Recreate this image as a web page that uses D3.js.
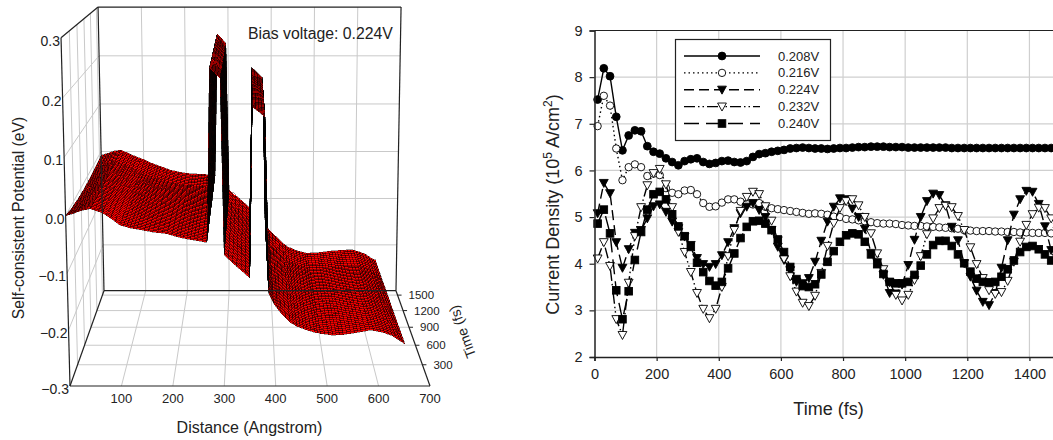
<!DOCTYPE html>
<html>
<head>
<meta charset="utf-8">
<script src="https://cdn.jsdelivr.net/npm/d3@7"></script>
<style>
  html, body { margin: 0; padding: 0; background: #fff; }
  text { font-family: "Liberation Sans", Arial, sans-serif; fill: #222; }
</style>
</head>
<body>
<div id="chart"></div>
<script>
var svgWidth = 1053;
var svgHeight = 440;

// ---- current density chart values, one point every 20 fs ----
var currentTimes = d3.range(75).map(function(i) { return 10 + i * 20; });

var v208 = [7.52,8.19,8.02,7.15,6.43,6.75,6.86,6.84,6.52,6.40,6.36,6.26,6.18,6.11,6.20,6.24,6.26,6.18,6.14,6.16,6.20,6.21,6.18,6.17,6.20,6.29,6.35,6.37,6.40,6.42,6.44,6.47,6.48,6.49,6.48,6.47,6.47,6.46,
  6.47,6.48,6.48,6.49,6.50,6.50,6.51,6.51,6.51,6.50,6.50,6.50,6.49,6.49,6.49,6.49,6.49,6.49,6.49,6.48,6.48,6.48,6.48,6.48,6.48,6.48,6.48,6.48,6.48,6.48,6.48,6.48,6.48,6.48,6.48,6.48,6.48];
var v216 = [6.95,7.60,7.39,6.47,5.79,6.07,6.13,6.07,5.88,5.93,5.90,5.62,5.52,5.49,5.57,5.58,5.49,5.30,5.22,5.23,5.31,5.38,5.38,5.33,5.28,5.27,5.30,5.22,5.19,5.17,5.15,5.13,5.11,5.09,5.07,5.08,5.07,5.05,
  5.01,5.00,4.96,4.95,4.93,4.91,4.89,4.87,4.86,4.86,4.85,4.83,4.82,4.81,4.81,4.80,4.79,4.78,4.77,4.76,4.75,4.72,4.71,4.70,4.70,4.70,4.69,4.69,4.68,4.68,4.67,4.67,4.66,4.66,4.66,4.65,4.65];
var v224 = [5.08,5.73,5.51,4.46,3.91,4.31,4.66,4.72,4.97,5.23,5.27,5.11,4.90,4.76,4.58,4.40,4.12,3.99,3.93,3.99,4.18,4.46,4.76,5.08,5.22,5.30,5.15,5.00,4.72,4.36,4.08,3.86,3.61,3.58,3.69,4.04,4.49,4.90,
  5.22,5.40,5.38,5.18,5.00,4.75,4.23,4.03,3.76,3.37,3.36,3.55,3.97,4.51,5.00,5.34,5.50,5.47,5.25,4.79,4.50,4.01,3.72,3.42,3.18,3.11,3.37,3.91,4.50,5.05,5.38,5.56,5.54,5.28,4.80,4.29,3.95];
var v232 = [4.11,4.46,3.95,2.81,2.47,3.59,4.59,5.21,5.68,5.94,6.03,5.70,5.21,4.68,4.25,3.82,3.37,3.03,2.83,3.03,3.50,4.16,4.72,5.13,5.43,5.54,5.49,5.23,4.92,4.50,4.10,3.73,3.40,3.16,3.09,3.31,3.80,4.38,
  4.87,5.19,5.34,5.38,5.25,5.00,4.65,4.22,3.88,3.60,3.33,3.21,3.33,3.65,4.16,4.63,4.97,5.19,5.24,5.21,5.02,4.72,4.35,3.99,3.69,3.43,3.35,3.39,3.63,4.04,4.47,4.83,5.06,5.20,5.19,4.97,4.70];
var v240 = [4.86,5.16,4.65,3.43,2.81,3.41,4.08,4.68,5.16,5.49,5.54,5.38,5.06,4.80,4.59,4.36,4.02,3.82,3.63,3.53,3.61,3.90,4.22,4.55,4.79,4.91,4.92,4.86,4.72,4.52,4.25,3.93,3.67,3.52,3.50,3.56,3.77,4.04,
  4.27,4.47,4.61,4.65,4.63,4.47,4.20,3.99,3.78,3.61,3.58,3.58,3.61,3.76,3.96,4.20,4.40,4.49,4.49,4.38,4.20,4.01,3.83,3.68,3.61,3.60,3.61,3.72,3.88,4.07,4.25,4.36,4.38,4.31,4.20,4.07,3.95];

var seriesLabels = ["0.208V", "0.216V", "0.224V", "0.232V", "0.240V"];
var currentTicksX = [0, 200, 400, 600, 800, 1000, 1200, 1400];
var currentTicksY = [2, 3, 4, 5, 6, 7, 8, 9];

// ---- potential surface values ----
var distanceNodes = [0,15,30,47,70,85,103,122,141,165,192,210,230,250,268,271,275,285,295,298,301,325,350,353,355,367,379,383,386,395,410,427,440,460,475,486,510,530,545,565,582,596,610,625,640,650];
var timeNodes = [0, 250, 500, 750, 1000, 1250, 1590];
var pot0    = [0,.004,.009,.012,.005,-.004,-.016,-.021,-.024,-.028,-.031,-.036,-.040,-.043,-.046,.060,.250,.242,.233,.080,-.068,-.088,-.108,.050,.185,.177,.168,.020,-.134,-.152,-.170,-.186,-.193,-.200,-.204,-.206,-.209,-.208,-.206,-.203,-.200,-.202,-.205,-.210,-.219,-.225];
var pot250  = [-.006,-.002,.004,.009,.004,-.005,-.016,-.021,-.025,-.030,-.034,-.038,-.041,-.044,-.047,.060,.249,.241,.232,.078,-.071,-.090,-.110,.048,.184,.175,.166,.018,-.137,-.155,-.172,-.188,-.196,-.203,-.206,-.208,-.210,-.209,-.207,-.205,-.202,-.204,-.207,-.212,-.221,-.227];
var pot500  = [-.010,-.005,.002,.007,.002,-.006,-.015,-.022,-.027,-.032,-.036,-.040,-.043,-.045,-.047,.060,.248,.240,.231,.076,-.073,-.093,-.112,.047,.182,.173,.164,.016,-.140,-.157,-.174,-.190,-.198,-.205,-.208,-.210,-.212,-.211,-.208,-.206,-.204,-.205,-.209,-.214,-.223,-.229];
var pot750  = [-.012,-.006,.001,.006,0,-.008,-.017,-.023,-.028,-.034,-.038,-.042,-.044,-.046,-.048,.060,.248,.239,.230,.075,-.075,-.094,-.114,.045,.181,.172,.162,.014,-.142,-.160,-.175,-.191,-.199,-.207,-.210,-.212,-.213,-.212,-.210,-.208,-.206,-.207,-.211,-.216,-.225,-.230];
var pot1000 = [-.012,-.006,0,.005,-.002,-.009,-.017,-.024,-.029,-.036,-.041,-.044,-.046,-.048,-.049,.060,.247,.238,.229,.073,-.077,-.096,-.116,.043,.180,.170,.160,.012,-.145,-.162,-.177,-.193,-.201,-.209,-.212,-.214,-.215,-.213,-.211,-.209,-.208,-.208,-.212,-.217,-.226,-.231];
var pot1250 = [-.011,-.005,.001,.004,-.004,-.010,-.018,-.026,-.031,-.038,-.043,-.046,-.047,-.049,-.050,.060,.246,.237,.228,.072,-.079,-.098,-.118,.042,.178,.168,.158,.011,-.148,-.165,-.179,-.194,-.203,-.210,-.214,-.216,-.216,-.214,-.212,-.211,-.210,-.210,-.214,-.219,-.228,-.233];
var pot1590 = [-.008,-.004,.001,.003,-.006,-.012,-.018,-.026,-.032,-.040,-.045,-.047,-.048,-.049,-.050,.060,.245,.236,.226,.070,-.082,-.100,-.120,.040,.176,.166,.156,.010,-.150,-.167,-.180,-.195,-.204,-.212,-.216,-.218,-.217,-.215,-.213,-.212,-.211,-.211,-.215,-.220,-.229,-.234];
var potentialRows = [pot0, pot250, pot500, pot750, pot1000, pot1250, pot1590];

var distanceTicks = [100, 200, 300, 400, 500, 600, 700];
var timeTicks = [300, 600, 900, 1200, 1500];
var potentialTicks = [-0.3, -0.2, -0.1, 0.0, 0.1, 0.2, 0.3];

var svg = d3.select("#chart")
  .append("svg")
  .attr("width", svgWidth)
  .attr("height", svgHeight)
  .style("display", "block");

// ======================================================
// Left chart: perspective surface
// ======================================================
var uScale = d3.scaleLinear().domain([0, 700]).range([0, 1]);
var vScale = d3.scaleLinear().domain([0, 1590]).range([0, 1]);
var wScale = d3.scaleLinear().domain([-0.3, 0.3]).range([0, 1]);

// projects a (distance, time, potential) point on to the page
function project(x, t, z) {
  var u = uScale(x), v = vScale(t), w = wScale(z);
  var d = 1 + 0.2329 * v - 0.0448 * w;
  return [
    (70 + 360 * u + 58.2 * v - 11.7 * w) / d,
    (386 - 27.6 * v - 350 * w) / d
  ];
}

var grid3d = svg.append("g").attr("fill", "none").attr("stroke", "#c9c9c9").attr("stroke-width", 1);
var xMax3d = 700, tMax3d = 1590, zMin = -0.3, zMax = 0.3;

function line3d(group, a, b, color, width) {
  var p = project(a[0], a[1], a[2]), q = project(b[0], b[1], b[2]);
  group.append("line")
    .attr("x1", p[0]).attr("y1", p[1])
    .attr("x2", q[0]).attr("y2", q[1])
    .attr("stroke", color || "#c9c9c9")
    .attr("stroke-width", width || 1);
}

distanceTicks.forEach(function(x) {
  if (x < xMax3d) line3d(grid3d, [x, tMax3d, zMin], [x, tMax3d, zMax]);
  if (x < xMax3d) line3d(grid3d, [x, 0, zMin], [x, tMax3d, zMin]);
});
potentialTicks.slice(1, -1).forEach(function(z) {
  line3d(grid3d, [0, tMax3d, z], [xMax3d, tMax3d, z]);
  line3d(grid3d, [0, 0, z], [0, tMax3d, z]);
});
timeTicks.forEach(function(t) {
  line3d(grid3d, [0, t, zMin], [xMax3d, t, zMin]);
  line3d(grid3d, [0, t, zMin], [0, t, zMax]);
});

// surface is painted from the back row forward, outer columns first
var surface = svg.append("g")
  .attr("stroke", "#000")
  .attr("stroke-width", 0.36)
  .attr("fill", "#f60000")
  .attr("shape-rendering", "crispEdges");
var columnOrder = d3.range(distanceNodes.length - 1).sort(function(a, b) {
  return Math.abs(distanceNodes[b] - 350) - Math.abs(distanceNodes[a] - 350);
});
var rowSteps = 8;

function meshPoint(i, j, s, r) {
  var x = distanceNodes[i] + (distanceNodes[i + 1] - distanceNodes[i]) * s;
  var t = timeNodes[j] + (timeNodes[j + 1] - timeNodes[j]) * r;
  var z0 = potentialRows[j][i] + (potentialRows[j][i + 1] - potentialRows[j][i]) * s;
  var z1 = potentialRows[j + 1][i] + (potentialRows[j + 1][i + 1] - potentialRows[j + 1][i]) * s;
  return project(x, t, z0 + (z1 - z0) * r);
}

for (var j = timeNodes.length - 2; j >= 0; j--) {
  for (var r = rowSteps - 1; r >= 0; r--) {
    columnOrder.forEach(function(i) {
      var colSteps = Math.max(1, Math.ceil((distanceNodes[i + 1] - distanceNodes[i]) / 9));
      var order = d3.range(colSteps);
      if (distanceNodes[i] > 350) order.reverse();
      order.forEach(function(c) {
        var r0 = r / rowSteps, r1 = (r + 1) / rowSteps;
        var s0 = c / colSteps, s1 = (c + 1) / colSteps;
        var pts = [meshPoint(i, j, s0, r0), meshPoint(i, j, s1, r0), meshPoint(i, j, s1, r1), meshPoint(i, j, s0, r1)];
        surface.append("path").attr("d", "M" + pts.join("L") + "Z");
      });
    });
  }
}

// box edges
var frame3d = svg.append("g");
var edge = "#222";
line3d(frame3d, [0, tMax3d, zMax], [xMax3d, tMax3d, zMax], edge, 1.2);
line3d(frame3d, [0, tMax3d, zMin], [0, tMax3d, zMax], edge, 1.2);
line3d(frame3d, [xMax3d, tMax3d, zMin], [xMax3d, tMax3d, zMax], edge, 1.2);
line3d(frame3d, [0, tMax3d, zMin], [xMax3d, tMax3d, zMin], edge, 1.2);
line3d(frame3d, [0, 0, zMin], [0, 0, zMax], edge, 1.2);
line3d(frame3d, [0, 0, zMax], [0, tMax3d, zMax], edge, 1.2);
line3d(frame3d, [0, 0, zMin], [0, tMax3d, zMin], edge, 1.2);
line3d(frame3d, [0, 0, zMin], [xMax3d, 0, zMin], edge, 1.2);
line3d(frame3d, [xMax3d, 0, zMin], [xMax3d, tMax3d, zMin], edge, 1.2);

potentialTicks.forEach(function(z) {
  var p = project(0, 0, z);
  svg.append("text")
    .attr("x", p[0] - 1)
    .attr("y", p[1] + 8)
    .attr("text-anchor", "end")
    .attr("font-size", 14)
    .text(d3.format(".1f")(z));
});
distanceTicks.forEach(function(x) {
  var p = project(x, 0, zMin);
  svg.append("text")
    .attr("x", p[0])
    .attr("y", p[1] + 17)
    .attr("text-anchor", "middle")
    .attr("font-size", 13)
    .text(x);
});
timeTicks.forEach(function(t) {
  var p = project(xMax3d, t, zMin);
  frame3d.append("line")
    .attr("x1", p[0]).attr("y1", p[1])
    .attr("x2", p[0] + 4).attr("y2", p[1])
    .attr("stroke", edge);
  svg.append("text")
    .attr("x", p[0] + 11)
    .attr("y", p[1] + 4)
    .attr("font-size", 11.5)
    .text(t);
});

svg.append("text")
  .attr("x", 249.5).attr("y", 433)
  .attr("text-anchor", "middle")
  .attr("font-size", 16)
  .text("Distance (Angstrom)");
svg.append("text")
  .attr("transform", "translate(24, 218) rotate(-90)")
  .attr("text-anchor", "middle")
  .attr("font-size", 15.7)
  .text("Self-consistent Potential (eV)");
svg.append("text")
  .attr("transform", "translate(467, 330) rotate(-110)")
  .attr("text-anchor", "middle")
  .attr("font-size", 14)
  .text("Time (fs)");
svg.append("text")
  .attr("x", 248).attr("y", 39)
  .attr("font-size", 15.8)
  .text("Bias voltage: 0.224V");

// ======================================================
// Right chart: current density
// ======================================================
var margin = { top: 30.5, left: 594.5 };
var width = 466;
var height = 326.5;

var chartGroup = svg.append("g")
  .attr("transform", `translate(${margin.left}, ${margin.top})`);

var xLinearScale = d3.scaleLinear().domain([0, 1500]).range([0, width]);
var yLinearScale = d3.scaleLinear().domain([2, 9]).range([height, 0]);

chartGroup.append("g").selectAll("line")
  .data(currentTicksX.slice(1))
  .enter().append("line")
  .attr("x1", d => xLinearScale(d)).attr("x2", d => xLinearScale(d))
  .attr("y1", 0).attr("y2", height)
  .attr("stroke", "#cfcfcf").attr("stroke-width", 1.2);
chartGroup.append("g").selectAll("line")
  .data(currentTicksY.slice(1, -1))
  .enter().append("line")
  .attr("x1", 0).attr("x2", width)
  .attr("y1", d => yLinearScale(d)).attr("y2", d => yLinearScale(d))
  .attr("stroke", "#cfcfcf").attr("stroke-width", 1.2);

var allSeries = [
  { name: seriesLabels[0], values: v208, dash: null, marker: "filledCircle" },
  { name: seriesLabels[1], values: v216, dash: "1.5 3", marker: "openCircle" },
  { name: seriesLabels[2], values: v224, dash: "10 5", marker: "filledTriangle" },
  { name: seriesLabels[3], values: v232, dash: "11 3 1.5 3 1.5 3", marker: "openTriangle" },
  { name: seriesLabels[4], values: v240, dash: "15 7", marker: "filledSquare" }
];

function drawMarker(group, kind, x, y) {
  var filled = kind.indexOf("filled") === 0;
  var fill = filled ? "#000" : "#fff";
  var mark;
  if (kind.indexOf("Circle") > 0) {
    mark = group.append("circle").attr("cx", x).attr("cy", y).attr("r", filled ? 3.9 : 3.7);
  } else if (kind.indexOf("Triangle") > 0) {
    var tri = d3.line()([[x - 4.4, y - 3.6], [x + 4.4, y - 3.6], [x, y + 4.4]]) + "Z";
    mark = group.append("path").attr("d", tri);
  } else {
    mark = group.append("rect").attr("x", x - 3.8).attr("y", y - 3.8).attr("width", 7.6).attr("height", 7.6);
  }
  mark.attr("fill", fill).attr("stroke", "#000").attr("stroke-width", 0.9);
}

var lineGen = d3.line()
  .x(function(d, i) { return xLinearScale(currentTimes[i]); })
  .y(function(d) { return yLinearScale(d); });

allSeries.forEach(function(s) {
  var g = chartGroup.append("g");
  g.append("path")
    .attr("d", lineGen(s.values))
    .attr("fill", "none")
    .attr("stroke", "#000")
    .attr("stroke-width", 1.4)
    .attr("stroke-dasharray", s.dash);
  s.values.forEach(function(d, i) {
    drawMarker(g, s.marker, xLinearScale(currentTimes[i]), yLinearScale(d));
  });
});

// Axes
var bottomAxis = d3.axisBottom(xLinearScale).tickValues(currentTicksX).tickSize(4).tickPadding(8).tickFormat(d3.format("d"));
var leftAxis = d3.axisLeft(yLinearScale).tickValues(currentTicksY).tickSize(5).tickPadding(7).tickFormat(d3.format("d"));

var bottomG = chartGroup.append("g").attr("transform", `translate(0, ${height})`).call(bottomAxis);
var leftG = chartGroup.append("g").call(leftAxis);
[bottomG, leftG].forEach(function(g) {
  g.selectAll("text").attr("font-size", 14.5).attr("font-family", null);
  g.attr("font-family", null).attr("font-size", null);
  g.selectAll("path, line").attr("stroke", "#222").attr("stroke-width", 1.2);
  g.select(".domain").attr("stroke-width", 1.5);
});
chartGroup.append("line").attr("x1", 0).attr("x2", width).attr("y1", 0).attr("y2", 0)
  .attr("stroke", "#222").attr("stroke-width", 1.2);

svg.append("text")
  .attr("x", 828.5).attr("y", 415)
  .attr("text-anchor", "middle")
  .attr("font-size", 18)
  .text("Time (fs)");

var yTitle = svg.append("text")
  .attr("transform", "translate(559, 204.5) rotate(-90)")
  .attr("text-anchor", "middle")
  .attr("font-size", 18);
yTitle.append("tspan").text("Current Density (10");
yTitle.append("tspan").attr("dy", -7).attr("font-size", 12).text("5");
yTitle.append("tspan").attr("dy", 7).text(" A/cm");
yTitle.append("tspan").attr("dy", -7).attr("font-size", 12).text("2");
yTitle.append("tspan").attr("dy", 7).text(")");

// Legend
var legend = svg.append("g");
legend.append("rect")
  .attr("x", 675.5).attr("y", 39.5).attr("width", 155).attr("height", 101)
  .attr("fill", "#fff").attr("stroke", "#222").attr("stroke-width", 1.2);
var legendY = d3.scalePoint().domain(seriesLabels).range([56, 123.5]);
allSeries.forEach(function(s) {
  var y = legendY(s.name);
  legend.append("line")
    .attr("x1", 684).attr("x2", 760).attr("y1", y).attr("y2", y)
    .attr("stroke", "#000").attr("stroke-width", 1.4)
    .attr("stroke-dasharray", s.dash);
  drawMarker(legend, s.marker, 722, y);
  legend.append("text")
    .attr("x", 778).attr("y", y + 4.5)
    .attr("font-size", 13)
    .text(s.name);
});
</script>
</body>
</html>
